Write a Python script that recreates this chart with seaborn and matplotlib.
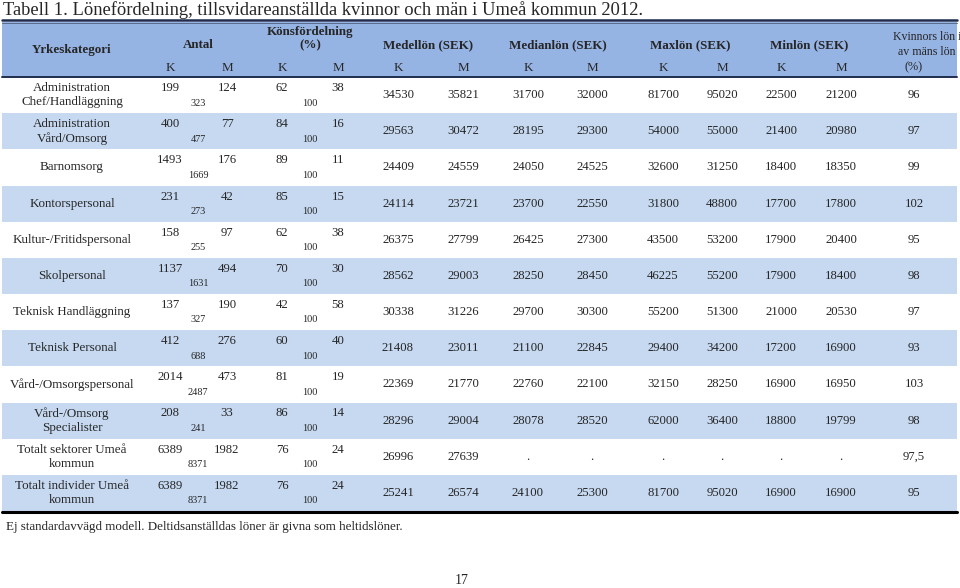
import numpy as np
import pandas as pd
import matplotlib
matplotlib.use('Agg')
import matplotlib.pyplot as plt
from matplotlib.colors import ListedColormap
import seaborn as sns

# Table data
categories = ["Administration\nChef/Handläggning", "Administration\nVård/Omsorg", "Barnomsorg",
              "Kontorspersonal", "Kultur-/Fritidspersonal", "Skolpersonal", "Teknisk Handläggning",
              "Teknisk Personal", "Vård-/Omsorgspersonal", "Vård-/Omsorg\nSpecialister",
              "Totalt sektorer Umeå\nkommun", "Totalt individer Umeå\nkommun"]
antal_k = [199, 400, 1493, 231, 158, 1137, 137, 412, 2014, 208, 6389, 6389]
antal_m = [124, 77, 176, 42, 97, 494, 190, 276, 473, 33, 1982, 1982]
antal_tot = [323, 477, 1669, 273, 255, 1631, 327, 688, 2487, 241, 8371, 8371]
kons_k = [62, 84, 89, 85, 62, 70, 42, 60, 81, 86, 76, 76]
kons_m = [38, 16, 11, 15, 38, 30, 58, 40, 19, 14, 24, 24]
medel_k = [34530, 29563, 24409, 24114, 26375, 28562, 30338, 21408, 22369, 28296, 26996, 25241]
medel_m = [35821, 30472, 24559, 23721, 27799, 29003, 31226, 23011, 21770, 29004, 27639, 26574]
median_k = [31700, 28195, 24050, 23700, 26425, 28250, 29700, 21100, 22760, 28078, None, 24100]
median_m = [32000, 29300, 24525, 22550, 27300, 28450, 30300, 22845, 22100, 28520, None, 25300]
max_k = [81700, 54000, 32600, 31800, 43500, 46225, 55200, 29400, 32150, 62000, None, 81700]
max_m = [95020, 55000, 31250, 48800, 53200, 55200, 51300, 34200, 28250, 36400, None, 95020]
min_k = [22500, 21400, 18400, 17700, 17900, 17900, 21000, 17200, 16900, 18800, None, 16900]
min_m = [21200, 20980, 18350, 17800, 20400, 18400, 20530, 16900, 16950, 19799, None, 16900]
ratio = ["96", "97", "99", "102", "95", "98", "97", "93", "103", "98", "97,5", "95"]

groups = ["Medellön (SEK)", "Medianlön (SEK)", "Maxlön (SEK)", "Minlön (SEK)"]

salary = pd.DataFrame({
    "medel_k": medel_k, "medel_m": medel_m,
    "median_k": median_k, "median_m": median_m,
    "max_k": max_k, "max_m": max_m,
    "min_k": min_k, "min_m": min_m,
})

sns.set_theme(style="white")
plt.rcParams['font.family'] = ['Liberation Serif', 'DejaVu Serif']

W, H = 960, 588
fig = plt.figure(figsize=(9.6, 5.88), dpi=100)

# layout (pixels)
x0, x1 = 2, 957
hdr_top, hdr_bot = 22, 77
body_bot = 511
n = len(categories)
rh = (body_bot - hdr_bot) / n

# striped body via seaborn heatmap
stripes = np.array([[i % 2] for i in range(n)])
ax_bg = fig.add_axes([x0 / W, 1 - body_bot / H, (x1 - x0) / W, (body_bot - hdr_bot) / H])
sns.heatmap(stripes, ax=ax_bg, cbar=False, cmap=ListedColormap(['white', '#c6d9f1']),
            xticklabels=False, yticklabels=False, linewidths=0)
ax_bg.axis('off')

ax = fig.add_axes([0, 0, 1, 1])
ax.patch.set_alpha(0)
ax.set_xlim(0, W)
ax.set_ylim(H, 0)
ax.axis('off')

# header background and rules
ax.fill_between([x0, x1], hdr_top, hdr_bot, color='#95b3e3', lw=0)
ax.plot([x0, x1], [20, 20], color='#1f2d4d', lw=1.8)
ax.plot([x0, x1], [22.5, 22.5], color='#5a6b8c', lw=0.7)
ax.plot([x0, x1], [hdr_bot, hdr_bot], color='#1f2d4d', lw=1.4)
ax.plot([x0, x1], [body_bot + 1, body_bot + 1], color='black', lw=2.2)

# title / footnote / page number
ax.text(3, 10, "Tabell 1. Lönefördelning, tillsvidareanställda kvinnor och män i Umeå kommun 2012.",
        fontsize=13.3, va='center', ha='left')
ax.text(6, 527, "Ej standardavvägd modell. Deltidsanställdas löner är givna som heltidslöner.",
        fontsize=9.4, va='center', ha='left')
ax.text(462, 580, "17", fontsize=10, va='center', ha='center')

# header text
bold = dict(fontsize=9.4, fontweight='bold', va='center', ha='center')
ax.text(72, 50, "Yrkeskategori", **bold)
ax.text(198, 45, "Antal", **bold)
ax.text(310, 32, "Könsfördelning", **bold)
ax.text(310, 45, "(%)", **bold)
grp_x = [(398, 463), (528, 592), (663, 722), (781, 841)]
for g, (xk, xm) in zip(groups, grp_x):
    ax.text((xk + xm) / 2 - 2, 45, g, **bold)
ax.text(927, 37, "Kvinnors lön i", fontsize=8.6, va='center', ha='center')
ax.text(927, 52, "av mäns lön", fontsize=8.6, va='center', ha='center')
ax.text(914, 67, "(%)", fontsize=8.8, va='center', ha='center')

km_x = [170, 227, 282, 338] + [x for pair in grp_x for x in pair]
for i, xx in enumerate(km_x):
    ax.text(xx, 68, "K" if i % 2 == 0 else "M", fontsize=9.4, va='center', ha='center')

# body
for i in range(n):
    top = hdr_bot + i * rh
    mid = top + rh / 2
    lines = categories[i].split("\n")
    if len(lines) == 2:
        ax.text(72, top + 11, lines[0], fontsize=9.4, va='center', ha='center')
        ax.text(72, top + 25, lines[1], fontsize=9.4, va='center', ha='center')
    else:
        ax.text(72, mid, lines[0], fontsize=9.4, va='center', ha='center')

    ax.text(170, top + 11, str(antal_k[i]), fontsize=9.2, va='center', ha='center')
    ax.text(227, top + 11, str(antal_m[i]), fontsize=9.2, va='center', ha='center')
    ax.text(198, top + 26, str(antal_tot[i]), fontsize=7.4, va='center', ha='center')
    ax.text(282, top + 11, str(kons_k[i]), fontsize=9.2, va='center', ha='center')
    ax.text(338, top + 11, str(kons_m[i]), fontsize=9.2, va='center', ha='center')
    ax.text(310, top + 26, "100", fontsize=7.4, va='center', ha='center')

    for j, col in enumerate(salary.columns):
        v = salary[col].iloc[i]
        s = "." if pd.isna(v) else str(int(v))
        ax.text(km_x[4 + j], mid, s, fontsize=9.2, va='center', ha='center')
    ax.text(914, mid, ratio[i], fontsize=9.2, va='center', ha='center')

fig.savefig("out.png", dpi=100)
